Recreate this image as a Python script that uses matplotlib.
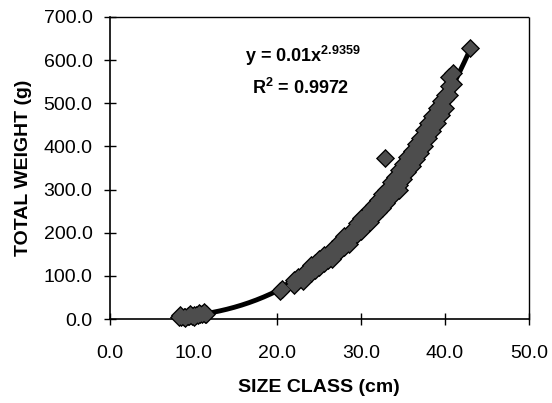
import numpy as np
import matplotlib.pyplot as plt
from matplotlib.ticker import FormatStrFormatter

plt.rcParams['font.family'] = ['Liberation Sans', 'DejaVu Sans']
plt.rcParams['mathtext.fontset'] = 'custom'
plt.rcParams['mathtext.rm'] = 'Liberation Sans'
plt.rcParams['mathtext.bf'] = 'Liberation Sans:bold'

# size class (cm) and total weight (g)
size_cm = [8.2, 8.5, 8.8, 9.0, 9.3, 9.5, 9.8, 10.0, 10.3, 10.5, 10.8, 11.0, 11.3, 11.5,
           8.4, 9.6, 10.6, 11.2, 9.0, 10.0,
           20.3, 20.6,
           22.0, 22.0, 22.0, 22.5, 22.5, 23.0, 23.0, 23.0, 23.5, 23.5, 23.5,
           24.0, 24.0, 24.0, 24.0, 24.5, 24.5, 24.5, 25.0, 25.0, 25.0, 25.0,
           25.5, 25.5, 25.5, 26.0, 26.0, 26.0, 26.5, 26.5, 26.5, 26.5,
           27.0, 27.0, 27.0, 27.5, 27.5, 27.5, 28.0, 28.0, 28.0, 28.0,
           28.5, 28.5, 28.5, 29.0, 29.0, 29.0, 29.5, 29.5, 29.5,
           30.0, 30.0, 30.0, 30.0, 30.5, 30.5, 30.5, 31.0, 31.0, 31.0,
           31.5, 31.5, 31.5, 32.0, 32.0, 32.0, 32.5, 32.5, 32.5, 32.8,
           33.0, 33.0, 33.0, 33.5, 33.5, 33.5, 34.0, 34.0, 34.0,
           34.5, 34.5, 34.5, 34.5, 35.0, 35.0, 35.0, 35.5, 35.5, 35.5,
           36.0, 36.0, 36.0, 36.5, 36.5, 36.5, 37.0, 37.0, 37.0,
           37.5, 37.5, 37.5, 38.0, 38.0, 38.0, 38.5, 38.5, 38.5,
           39.0, 39.0, 39.0, 39.5, 39.5, 39.5, 40.0, 40.0, 40.0,
           40.5, 40.5, 40.5, 41.0, 41.0, 43.0]
weight_g = [4, 5, 5, 6, 7, 7, 8, 9, 10, 10, 11, 12, 13, 13,
            9, 12, 14, 16, 2, 4,
            66, 70,
            85, 90, 78, 92, 98, 95, 105, 88, 102, 110, 115,
            108, 118, 112, 125, 115, 122, 130, 120, 128, 135, 140,
            130, 140, 148, 138, 145, 152, 145, 155, 162, 140,
            152, 160, 170, 160, 172, 180, 168, 178, 185, 192,
            175, 188, 198, 190, 200, 208, 198, 210, 222,
            205, 218, 228, 235, 215, 230, 242, 225, 240, 255,
            238, 252, 265, 248, 262, 275, 258, 275, 290, 374,
            270, 288, 300, 282, 300, 318, 295, 310, 330,
            310, 328, 345, 300, 325, 345, 360, 340, 358, 375,
            355, 372, 390, 370, 390, 405, 385, 405, 420,
            400, 420, 438, 420, 440, 455, 435, 455, 470,
            455, 475, 490, 472, 490, 505, 490, 510, 520,
            520, 540, 560, 545, 570, 628]

# power trendline from the chart label
fit_a = 0.01
fit_b = 2.9359
fit_r2 = 0.9972

fig = plt.figure(figsize=(5.52, 4.03), dpi=100)
ax = fig.add_axes([0.199, 0.208, 0.759, 0.750])

# black layer underneath, grey layer on top -> markers merge into one outlined blob
ax.scatter(size_cm, weight_g, marker='D', s=95, color='black', linewidth=0,
           zorder=3, clip_on=False)
ax.scatter(size_cm, weight_g, marker='D', s=62, color='#4d4d4d', linewidth=0,
           zorder=4, clip_on=False)

xx = np.linspace(min(size_cm), max(size_cm), 200)
ax.plot(xx, fit_a * xx ** fit_b, color='black', linewidth=3.5, zorder=2)

ax.set_xlim(0, 50)
ax.set_ylim(0, 700)
ax.set_xticks(np.arange(0, 51, 10))
ax.set_yticks(np.arange(0, 701, 100))
ax.xaxis.set_major_formatter(FormatStrFormatter('%.1f'))
ax.yaxis.set_major_formatter(FormatStrFormatter('%.1f'))
ax.tick_params(direction='inout', length=9, width=1, labelsize=14)
ax.tick_params(axis='x', pad=14)
ax.tick_params(axis='y', pad=8)

for side in ['left', 'bottom']:
    ax.spines[side].set_linewidth(1.2)
for side in ['top', 'right']:
    ax.spines[side].set_linewidth(1.0)
    ax.spines[side].set_linestyle((0, (1, 1)))

ax.set_xlabel('SIZE CLASS (cm)', fontsize=14, fontweight='bold', labelpad=12)
ax.set_ylabel('TOTAL WEIGHT (g)', fontsize=14, fontweight='bold', labelpad=8)

ax.text(0.46, 0.87, r'y = 0.01x$^{\mathbf{2.9359}}$', transform=ax.transAxes,
        fontsize=13, fontweight='bold', ha='center', va='center')
ax.text(0.455, 0.765, r'R$^{\mathbf{2}}$ = %.4f' % fit_r2, transform=ax.transAxes,
        fontsize=13, fontweight='bold', ha='center', va='center')

plt.savefig('out.png', dpi=100)
